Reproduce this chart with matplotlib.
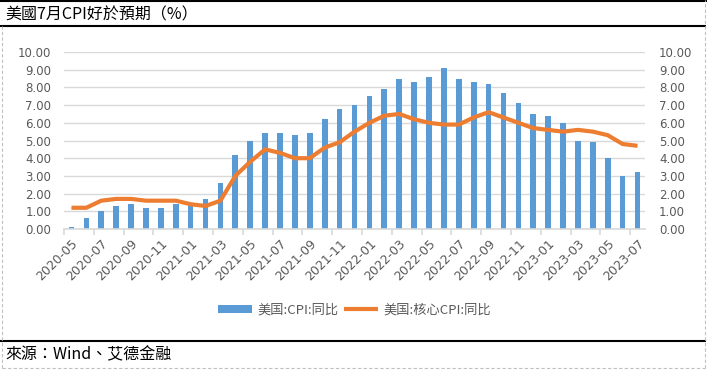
import matplotlib
matplotlib.use("Agg")
import matplotlib.pyplot as plt
from matplotlib.lines import Line2D
import numpy as np

months = ["2020-05","2020-06","2020-07","2020-08","2020-09","2020-10","2020-11","2020-12",
          "2021-01","2021-02","2021-03","2021-04","2021-05","2021-06","2021-07","2021-08",
          "2021-09","2021-10","2021-11","2021-12","2022-01","2022-02","2022-03","2022-04",
          "2022-05","2022-06","2022-07","2022-08","2022-09","2022-10","2022-11","2022-12",
          "2023-01","2023-02","2023-03","2023-04","2023-05","2023-06","2023-07"]
cpi = [0.1, 0.6, 1.0, 1.3, 1.4, 1.2, 1.2, 1.4, 1.4, 1.7, 2.6, 4.2, 5.0, 5.4, 5.4, 5.3,
       5.4, 6.2, 6.8, 7.0, 7.5, 7.9, 8.5, 8.3, 8.6, 9.1, 8.5, 8.3, 8.2, 7.7, 7.1, 6.5,
       6.4, 6.0, 5.0, 4.9, 4.0, 3.0, 3.2]
core = [1.2, 1.2, 1.6, 1.7, 1.7, 1.6, 1.6, 1.6, 1.4, 1.3, 1.6, 3.0, 3.8, 4.5, 4.3, 4.0,
        4.0, 4.6, 4.9, 5.5, 6.0, 6.4, 6.5, 6.2, 6.0, 5.9, 5.9, 6.3, 6.6, 6.3, 6.0, 5.7,
        5.6, 5.5, 5.6, 5.5, 5.3, 4.8, 4.7]
yticks = [0, 1, 2, 3, 4, 5, 6, 7, 8, 9, 10]
title = "美國7月CPI好於預期（%）"
source = "來源：Wind、艾德金融"
label_cpi = "美国:CPI:同比"
label_core = "美国:核心CPI:同比"

W, H = 707, 371
fig = plt.figure(figsize=(W/100, H/100), dpi=100)
tc = ["Noto Sans CJK TC", "DejaVu Sans"]
sc = ["Noto Sans CJK SC", "DejaVu Sans"]
grey = "#595959"

ax = fig.add_axes([64/W, 1-229/H, (645-64)/W, (229-52)/H])
x = np.arange(len(months))
bars = ax.bar(x, cpi, width=0.38, color="#5b9bd5", label=label_cpi, zorder=2)
line, = ax.plot(x, core, color="#ed7d31", lw=3, label=label_core, zorder=3, solid_capstyle="butt")
ax.set_xlim(-0.5, len(months)-0.5)
ax.set_ylim(0, 10)
ax.set_yticks(yticks)
ax.set_yticklabels([f"{v:.2f}" for v in yticks], fontsize=8.5, color=grey)
ax.tick_params(axis="y", length=0, pad=9)
ax.grid(axis="y", color="#d9d9d9", lw=1, zorder=0)
ax.set_axisbelow(True)
for s in ["top", "right", "left"]:
    ax.spines[s].set_visible(False)
ax.spines["bottom"].set_color("#d9d9d9")
ax.spines["bottom"].set_linewidth(1.2)
ax.set_xticks(x[::2])
ax.set_xticklabels(months[::2], rotation=45, ha="right", va="top",
                   rotation_mode="anchor", fontsize=9, color=grey)
ax.tick_params(axis="x", which="major", length=0, pad=6)
ax.set_xticks(np.arange(-0.5, len(months)-1, 2), minor=True)
ax.tick_params(axis="x", which="minor", length=4, color="#d9d9d9", width=1.2)

ax2 = ax.twinx()
ax2.set_ylim(0, 10)
ax2.set_yticks(yticks)
ax2.set_yticklabels([f"{v:.2f}" for v in yticks], fontsize=8.5, color=grey)
ax2.tick_params(axis="y", length=0, pad=10)
for s in ax2.spines.values():
    s.set_visible(False)

leg = fig.legend([bars, line], [label_cpi, label_core], loc="center",
                 bbox_to_anchor=(0.501, 1-310/H), ncol=2,
                 frameon=False, prop={"family": sc, "size": 9.5}, labelcolor=grey,
                 handlelength=2.6, handleheight=0.6, handletextpad=0.4, columnspacing=0.4)

fig.text(5/W, 1-15/H, title, fontsize=11.5, family=tc, va="center", ha="left")
fig.text(5/W, 1-355/H, source, fontsize=11.5, family=tc, va="center", ha="left")

# decorations
fig.add_artist(Line2D([0, 1], [1-0.8/H, 1-0.8/H], transform=fig.transFigure, color="black", lw=1.5))
fig.add_artist(Line2D([0, 705/W], [1-26/H, 1-26/H], transform=fig.transFigure, color="black", lw=1.5))
fig.add_artist(Line2D([0, 705/W], [1-341/H, 1-341/H], transform=fig.transFigure, color="black", lw=1.5))
fig.add_artist(Line2D([2/W, 2/W], [1-368/H, 1-26/H], transform=fig.transFigure, color="#c0c0c0", lw=0.8, ls=(0, (3, 2))))
fig.add_artist(Line2D([705/W, 705/W], [1-368/H, 1], transform=fig.transFigure, color="#c0c0c0", lw=0.8, ls=(0, (3, 2))))
fig.add_artist(Line2D([2/W, 705/W], [1-368/H, 1-368/H], transform=fig.transFigure, color="#c0c0c0", lw=0.8, ls=(0, (3, 2))))

fig.savefig("out.png", dpi=100)
